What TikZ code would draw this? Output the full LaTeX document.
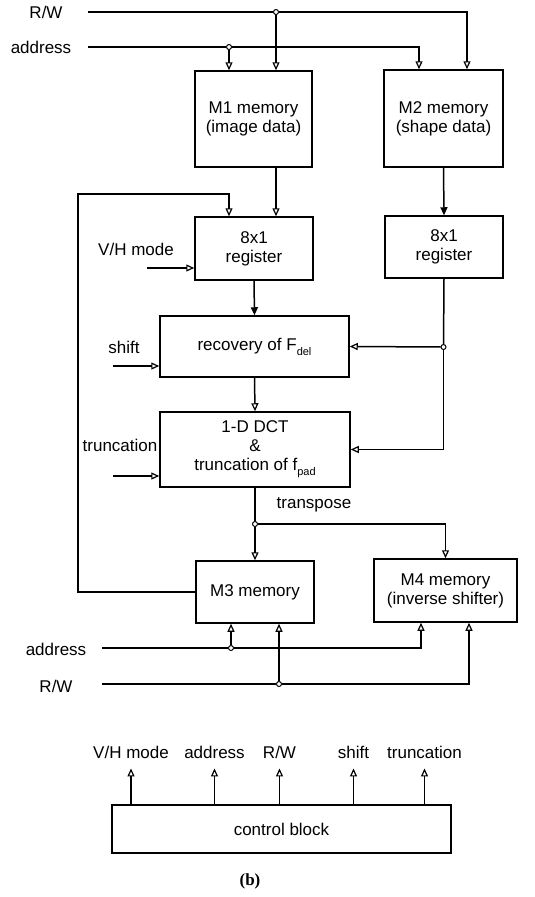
\documentclass[tikz,border=0pt]{standalone}
\usepackage{fontspec}
\setmainfont{Liberation Serif}
\setsansfont{Liberation Sans}
\usetikzlibrary{arrows.meta}
\newcommand{\lowsub}[1]{\raisebox{-5pt}{\fontsize{11}{11}\selectfont #1}}

\begin{document}
\begin{tikzpicture}[
        x=1pt, y=-1pt,
        font=\sffamily\fontsize{17}{19}\selectfont,
        blk/.style={draw, line width=1.5pt, align=center, inner sep=0pt},
        lbl/.style={inner sep=1pt},
        dot/.style={circle, draw, fill=white, line width=1pt, inner sep=0pt, minimum size=5pt},
        wire/.style={line width=1.5pt},
        sig/.style={wire, -{Triangle[open, length=8pt, width=7pt, line width=1.2pt]}},
        sigf/.style={wire, -{Triangle[length=8pt, width=7pt]}}
        ]
        \useasboundingbox (0,0) rectangle (535,897);

        \node[blk, minimum width=117pt, minimum height=96pt] (M1) at (253.5,119) {M1 memory\\(image data)};
        \node[blk, minimum width=119pt, minimum height=97pt] (M2) at (443.5,118.5) {M2 memory\\(shape data)};
        \node[blk, minimum width=118pt, minimum height=63pt] (reg1) at (254,248.5) {8x1\\register};
        \node[blk, minimum width=118pt, minimum height=62pt] (reg2) at (444,247) {8x1\\register};
        \node[blk, minimum width=189pt, minimum height=61pt] (rec) at (254.5,346.5) {recovery of F\lowsub{del}};
        \node[blk, minimum width=190pt, minimum height=75pt] (dct) at (255,449.5) {1-D DCT\\\&\\truncation of f\lowsub{pad}};
        \node[blk, minimum width=118pt, minimum height=62pt] (M3) at (255,592) {M3 memory};
        \node[blk, minimum width=143pt, minimum height=63pt] (M4) at (445.5,590.5) {M4 memory\\(inverse shifter)};
        \node[blk, minimum width=339pt, minimum height=48pt] (ctrl) at (281.5,829) {control block};

        \node[lbl] (rwTl) at (46,12) {R/W};
        \node[lbl] (adTl) at (41,47) {address};
        \node[lbl] (vhl) at (136,249) {V/H mode};
        \node[lbl] (shl) at (124,347) {shift};
        \node[lbl] (trl) at (120,445) {truncation};
        \node[lbl] (tpl) at (314,505) {transpose};
        \node[lbl] (adBl) at (56,649) {address};
        \node[lbl] (rwBl) at (56,686) {R/W};
        \node[font=\rmfamily\bfseries\fontsize{17}{19}\selectfont] (cap) at (250,881) {(b)};

        \coordinate (rwT) at (88,12);
        \coordinate (adT) at (88,47);
        \coordinate (vh) at (147,268);
        \coordinate (sh) at (113,366);
        \coordinate (tr) at (113,476);
        \coordinate (fb) at (78,194);
        \coordinate (adB) at (102,648);
        \coordinate (rwB) at (102,684);

        \node[dot] (jrw) at (276,12) {};
        \node[dot] (jad) at (229,47) {};
        \node[dot] (jr2) at (443.5,347) {};
        \node[dot] (jtp) at (255,524) {};
        \node[dot] (jad2) at (231,648) {};
        \node[dot] (jrw2) at (279,684) {};

        \draw[wire] (rwT) -- (jrw);
        \draw[sig] (jrw) -| ([xshift=23.5pt]M2.north);
        \draw[sig] (jrw) -- (jrw |- M1.north);
        \draw[wire] (adT) -- (jad);
        \draw[sig] (jad) -| ([xshift=-24.5pt]M2.north);
        \draw[sig] (jad) -- (jad |- M1.north);

        \draw[sig] (jrw |- M1.south) -- (jrw |- reg1.north);
        \draw[sigf] (M2.south) -- (reg2.north);
        \draw[sig] (M3.west) -| (fb) -| (jad |- reg1.north);
        \draw[sig] (vh) -- (vh -| reg1.west);

        \draw[sigf] (reg1.south) -- (rec.north);
        \draw[sig] (sh) -- (sh -| rec.west);
        \draw[wire] (reg2.south) -- (jr2);
        \draw[sig] (jr2) -- (rec.east);
        \draw[sig] (jr2) |- (dct.east);

        \draw[sig] (rec.south) -- (dct.north);
        \draw[sig] (tr) -- (tr -| dct.west);
        \draw[wire] (dct.south) -- (jtp);
        \draw[sig] (jtp) -- (M3.north);
        \draw[sig] (jtp) -| (M4.north);

        \draw[wire] (adB) -- (jad2);
        \draw[sig] (jad2) -- (jad2 |- M3.south);
        \draw[sig] (jad2) -| ([xshift=-24.5pt]M4.south);
        \draw[wire] (rwB) -- (jrw2);
        \draw[sig] (jrw2) -- (jrw2 |- M3.south);
        \draw[sig] (jrw2) -| ([xshift=23.5pt]M4.south);

        \foreach \x/\t/\n in {131/{V/H mode}/cvh, 214.5/address/cad, 279.5/{R/W}/crw, 353.5/shift/csh, 424.5/truncation/ctr}{
            \node[lbl] (\n) at (\x,752) {\t};
            \draw[sig, shorten >=9pt] (ctrl.north -| \n) -- (\n.south);
        }
    \end{tikzpicture}
\end{document}
